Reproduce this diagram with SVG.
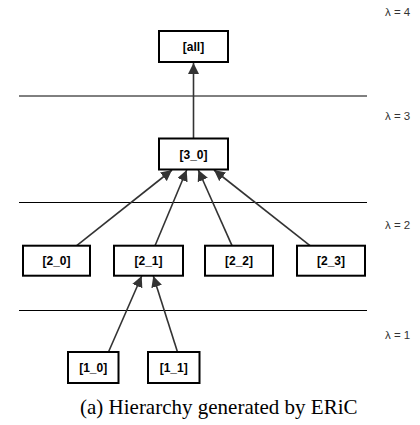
<svg xmlns="http://www.w3.org/2000/svg" width="420" height="425" viewBox="0 0 420 425">
<style>
.box{fill:#fff;stroke:#000;stroke-width:2}
.lbl{font-family:"Liberation Sans",Arial,sans-serif;font-size:12px;font-weight:bold;text-anchor:middle;fill:#000}
.lam{font-family:"Liberation Sans",Arial,sans-serif;font-size:11.5px;fill:#333}
.sep{stroke:#000;stroke-width:1}
.edge{stroke:#333;stroke-width:1.6;fill:none;marker-end:url(#ah)}
.cap{font-family:"Liberation Serif","Times New Roman",serif;font-size:21px;fill:#000}
</style>
<defs>
<marker id="ah" viewBox="0 0 10 10" refX="10" refY="5" markerWidth="11" markerHeight="11" markerUnits="userSpaceOnUse" orient="auto">
<path d="M0,0 L10,5 L0,10 z" fill="#333"/>
</marker>
</defs>
<rect width="420" height="425" fill="#fff"/>
<g id="separators">
<line class="sep" x1="19" y1="96" x2="367" y2="96"/>
<line class="sep" x1="19" y1="202.5" x2="367" y2="202.5"/>
<line class="sep" x1="19" y1="310.5" x2="367" y2="310.5"/>
</g>
<g id="levels">
<text class="lam" x="385" y="16">λ = 4</text>
<text class="lam" x="385" y="120">λ = 3</text>
<text class="lam" x="385" y="229">λ = 2</text>
<text class="lam" x="385" y="339">λ = 1</text>
</g>
<g id="connectors">
<line class="edge" x1="193.5" y1="138" x2="193.5" y2="63"/>
<line class="edge" x1="76.7" y1="245.7" x2="172" y2="170"/>
<line class="edge" x1="155" y1="245.7" x2="186.7" y2="170"/>
<line class="edge" x1="232" y1="245.7" x2="198.3" y2="170"/>
<line class="edge" x1="310" y1="245.7" x2="214" y2="170"/>
<line class="edge" x1="108.5" y1="352" x2="141.7" y2="276"/>
<line class="edge" x1="177.5" y1="352" x2="153.3" y2="276"/>
</g>
<g id="n_all"><rect class="box" x="159" y="31" width="69" height="31"/><text class="lbl" x="193.5" y="51">[all]</text></g>
<g id="n_3_0"><rect class="box" x="159" y="138.5" width="69" height="31"/><text class="lbl" x="193.5" y="158.5">[3_0]</text></g>
<g id="n_2_0"><rect class="box" x="23" y="245.7" width="67" height="30"/><text class="lbl" x="56.5" y="265">[2_0]</text></g>
<g id="n_2_1"><rect class="box" x="114" y="245.7" width="69" height="30"/><text class="lbl" x="148.5" y="265">[2_1]</text></g>
<g id="n_2_2"><rect class="box" x="205" y="245.7" width="68" height="30"/><text class="lbl" x="239" y="265">[2_2]</text></g>
<g id="n_2_3"><rect class="box" x="297" y="245.7" width="68" height="30"/><text class="lbl" x="331" y="265">[2_3]</text></g>
<g id="n_1_0"><rect class="box" x="68" y="352" width="50.5" height="31"/><text class="lbl" x="93.2" y="372">[1_0]</text></g>
<g id="n_1_1"><rect class="box" x="148" y="352" width="51.5" height="31"/><text class="lbl" x="173.7" y="372">[1_1]</text></g>
<text class="cap" x="80" y="414">(a) Hierarchy generated by ERiC</text>
</svg>
